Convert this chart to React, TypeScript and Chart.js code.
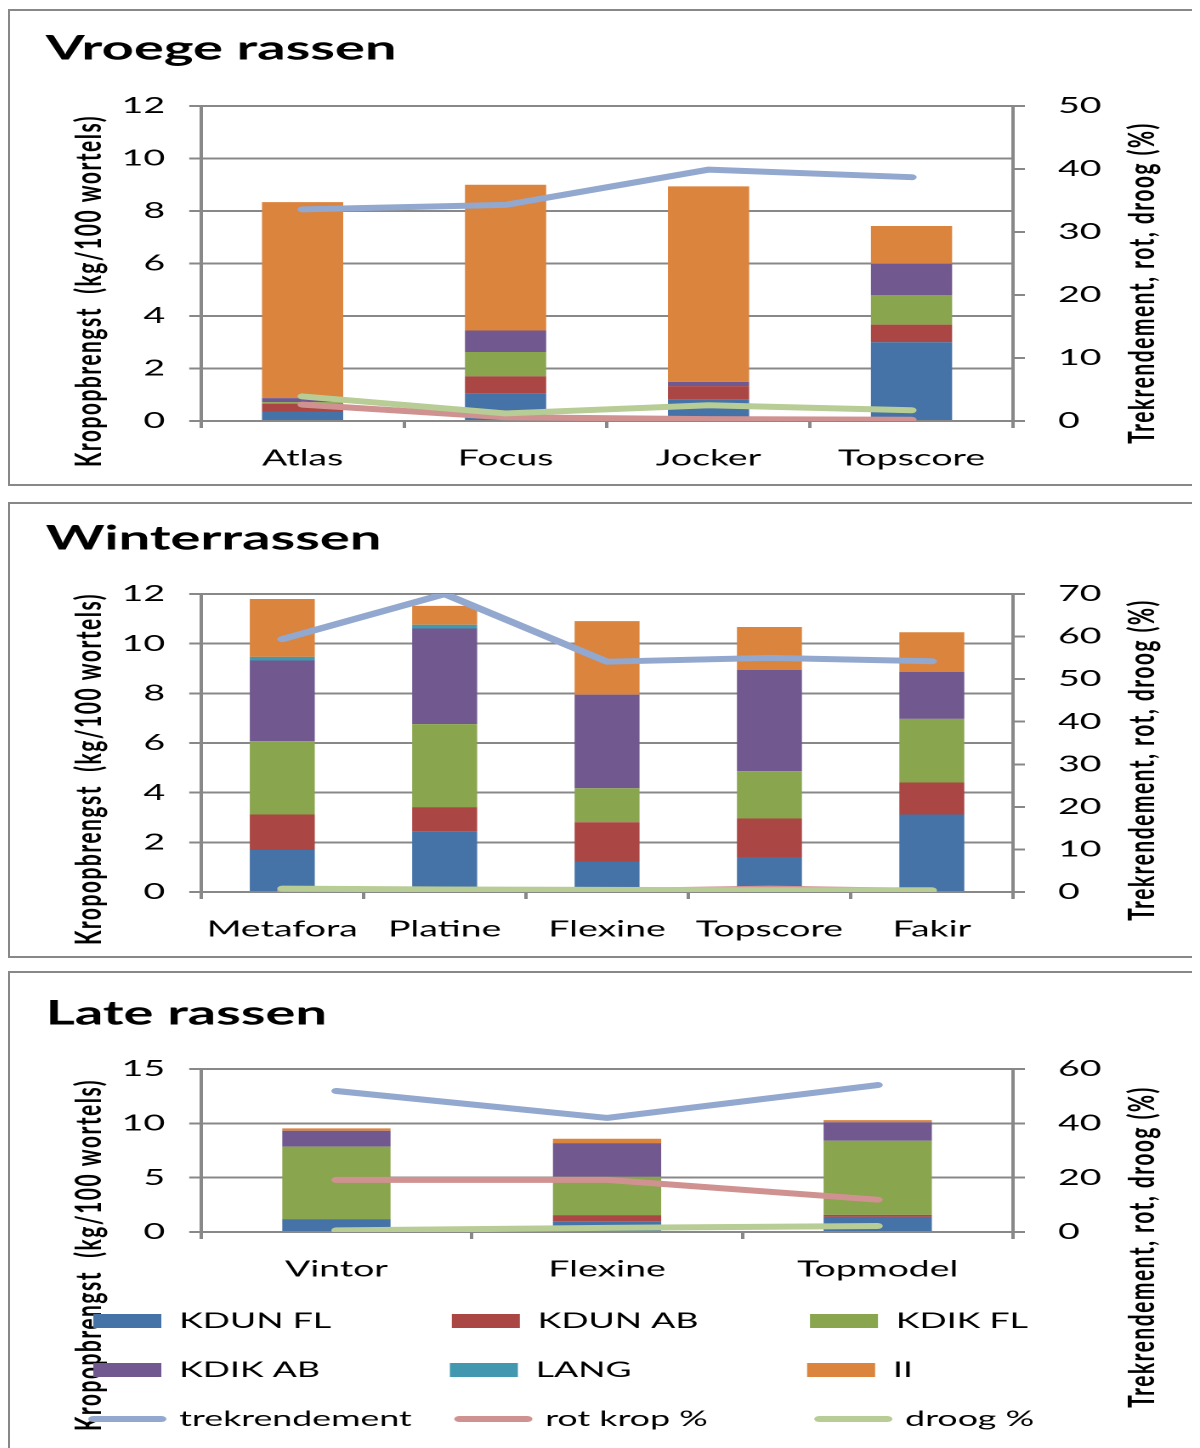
import React, { useEffect, useRef } from 'react';
import { Chart, registerables } from 'chart.js';

Chart.register(...registerables);

// ---------- data ----------
const BAR_NAMES = ['KDUN FL', 'KDUN AB', 'KDIK FL', 'KDIK AB', 'LANG', 'II'];
const LINE_NAMES = ['trekrendement', 'rot krop %', 'droog %'];
const BAR_COLORS = ['#4572A7', '#AA4643', '#89A54E', '#71588F', '#4198AF', '#DB843D'];
const LINE_COLORS = ['#92A8CF', '#D09291', '#B8CC95'];

const LEFT_TITLE = 'Kropopbrengst  (kg/100 wortels)';
const RIGHT_TITLE = 'Trekrendement, rot, droog (%)';

// Vroege rassen
const vroegeTitle = 'Vroege rassen';
const vroegeCats = ['Atlas', 'Focus', 'Jocker', 'Topscore'];
const vroegeKdunFl = [0.36, 1.04, 0.81, 3.0];
const vroegeKdunAb = [0.3, 0.66, 0.52, 0.67];
const vroegeKdikFl = [0.06, 0.93, 0.0, 1.13];
const vroegeKdikAb = [0.15, 0.82, 0.16, 1.19];
const vroegeLang = [0.02, 0, 0, 0];
const vroegeII = [7.45, 5.55, 7.45, 1.44];
const vroegeTrek = [33.6, 34.3, 39.9, 38.7];
const vroegeRot = [2.6, 0.6, 0.3, 0.2];
const vroegeDroog = [3.9, 1.2, 2.5, 1.7];

// Winterrassen
const winterTitle = 'Winterrassen';
const winterCats = ['Metafora', 'Platine', 'Flexine', 'Topscore', 'Fakir'];
const winterKdunFl = [1.69, 2.45, 1.23, 1.41, 3.12];
const winterKdunAb = [1.43, 0.97, 1.58, 1.55, 1.29];
const winterKdikFl = [2.95, 3.34, 1.37, 1.9, 2.56];
const winterKdikAb = [3.25, 3.85, 3.77, 4.08, 1.89];
const winterLang = [0.15, 0.15, 0, 0, 0];
const winterII = [2.33, 0.76, 2.96, 1.73, 1.6];
const winterTrek = [59.4, 70, 54.1, 55.0, 54.2];
const winterRot = [0.3, 0.2, 0.2, 0.8, 0.2];
const winterDroog = [0.8, 0.6, 0.5, 0.4, 0.4];

// Late rassen
const lateTitle = 'Late rassen';
const lateCats = ['Vintor', 'Flexine', 'Topmodel'];
const lateKdunFl = [1.18, 0.99, 1.39];
const lateKdunAb = [0.02, 0.56, 0.19];
const lateKdikFl = [6.66, 3.53, 6.82];
const lateKdikAb = [1.46, 3.1, 1.7];
const lateLang = [0, 0, 0];
const lateII = [0.22, 0.4, 0.19];
const lateTrek = [51.9, 42.0, 54.1];
const lateRot = [19.2, 19.2, 11.9];
const lateDroog = [0.6, 1.5, 2.2];

// ---------- styling ----------
const STRETCH = 1.7;
const CANVAS_W = 700;
const FONT = 'Lato, "Open Sans", "DejaVu Sans", sans-serif';
const GRID = '#888888';
const TICK_SIZE = 22;
const TITLE_SIZE = 33;
const AXIS_TITLE_SIZE = 21;
const AXIS_TITLE_SPACING = 1.5;
const LEFT_TITLE_PAD = 13;
const RIGHT_TITLE_PAD = 21.4;
const LEGEND_SIZE = 21;
const PAD_LEFT = 21;
const AREA_LEFT = 112.4;
const AREA_RIGHT = 590;

type PanelDef = {
  title: string;
  cats: string[];
  bars: number[][];
  lines: number[][];
  yMax: number;
  yStep: number;
  y1Max: number;
  y1Step: number;
  top: number;
  outerH: number;
  canvasH: number;
  titleTop: number;
  titleBottom: number;
  xAxisH: number;
  padBottom: number;
  legend: boolean;
  leftTitleY: number;
  rightTitleY: number;
};

const PANELS: PanelDef[] = [
  {
    title: vroegeTitle,
    cats: vroegeCats,
    bars: [vroegeKdunFl, vroegeKdunAb, vroegeKdikFl, vroegeKdikAb, vroegeLang, vroegeII],
    lines: [vroegeTrek, vroegeRot, vroegeDroog],
    yMax: 12, yStep: 2, y1Max: 50, y1Step: 10,
    top: 1, outerH: 477, canvasH: 473,
    titleTop: 18, titleBottom: 37.4, xAxisH: 63, padBottom: 0,
    legend: false, leftTitleY: 280, rightTitleY: 272,
  },
  {
    title: winterTitle,
    cats: winterCats,
    bars: [winterKdunFl, winterKdunAb, winterKdikFl, winterKdikAb, winterLang, winterII],
    lines: [winterTrek, winterRot, winterDroog],
    yMax: 12, yStep: 2, y1Max: 70, y1Step: 10,
    top: 494, outerH: 456, canvasH: 452,
    titleTop: 15, titleBottom: 35.4, xAxisH: 64, padBottom: 0,
    legend: false, leftTitleY: 265, rightTitleY: 256,
  },
  {
    title: lateTitle,
    cats: lateCats,
    bars: [lateKdunFl, lateKdunAb, lateKdikFl, lateKdikAb, lateLang, lateII],
    lines: [lateTrek, lateRot, lateDroog],
    yMax: 15, yStep: 5, y1Max: 60, y1Step: 20,
    top: 963, outerH: 500, canvasH: 475,
    titleTop: 21, titleBottom: 35.4, xAxisH: 50.5, padBottom: 8.5,
    legend: true, leftTitleY: 282, rightTitleY: 274,
  },
];

function verticalTitles(leftY: number, rightY: number) {
  return {
    id: 'verticalTitles',
    afterLayout(chart: any) {
      for (const id of ['y', 'y1']) {
        const sc = chart.scales[id];
        if (!sc || sc._vtPatched) continue;
        sc._vtPatched = true;
        const isLeft = id === 'y';
        sc.drawTitle = function () {
          const t = this.options.title;
          if (!t || !t.display) return;
          const ctx = this.ctx;
          const lh = AXIS_TITLE_SIZE * 1.2;
          const off = lh / 2 + (isLeft ? LEFT_TITLE_PAD : RIGHT_TITLE_PAD);
          const cx = isLeft ? this.left + off : this.right - off;
          const cy = isLeft ? leftY : rightY;
          ctx.save();
          ctx.translate(cx, cy);
          ctx.rotate(-Math.PI / 2);
          ctx.font = `bold ${AXIS_TITLE_SIZE}px ${FONT}`;
          (ctx as any).letterSpacing = `${AXIS_TITLE_SPACING}px`;
          ctx.fillStyle = '#000';
          ctx.textAlign = 'center';
          ctx.textBaseline = 'middle';
          ctx.fillText(t.text, 0, 0);
          ctx.restore();
        };
      }
    },
  };
}

function buildConfig(p: PanelDef): any {
  const datasets: any[] = [
    ...BAR_NAMES.map((name, i) => ({
      type: 'bar',
      label: name,
      data: p.bars[i],
      backgroundColor: BAR_COLORS[i],
      borderWidth: 0,
      yAxisID: 'y',
      stack: 'crop',
      order: 1,
      categoryPercentage: 1,
      barPercentage: 0.4,
    })),
    ...LINE_NAMES.map((name, i) => ({
      type: 'line',
      label: name,
      data: p.lines[i],
      borderColor: LINE_COLORS[i],
      backgroundColor: LINE_COLORS[i],
      borderWidth: 6,
      borderCapStyle: 'round',
      borderJoinStyle: 'round',
      pointRadius: 0,
      tension: 0,
      yAxisID: 'y1',
      order: -1 - i,
    })),
  ];

  return {
    type: 'bar',
    data: { labels: p.cats, datasets },
    plugins: [verticalTitles(p.leftTitleY, p.rightTitleY)],
    options: {
      responsive: false,
      animation: false,
      devicePixelRatio: 2,
      events: [],
      layout: { padding: { left: PAD_LEFT, right: 0, top: 0, bottom: p.padBottom } },
      plugins: {
        tooltip: { enabled: false },
        title: {
          display: true,
          text: p.title,
          align: 'start',
          color: '#000',
          font: { family: FONT, size: TITLE_SIZE, weight: 'bold', lineHeight: 1.2 },
          padding: { top: p.titleTop, bottom: p.titleBottom },
        },
        legend: {
          display: p.legend,
          position: 'bottom',
          align: 'start',
          labels: {
            color: '#000',
            font: { family: FONT, size: LEGEND_SIZE },
            usePointStyle: true,
            pointStyleWidth: 40,
            boxWidth: 40,
            boxHeight: 14,
            padding: 28,
            sort: (a: any, b: any) => a.datasetIndex - b.datasetIndex,
            generateLabels: (chart: any) => {
              const base = (Chart.defaults as any).plugins.legend.labels.generateLabels(chart);
              const ctx = chart.ctx;
              ctx.save();
              ctx.font = `${LEGEND_SIZE}px ${FONT}`;
              const target = Math.max(...base.map((it: any) => ctx.measureText(it.text).width)) - 4;
              base.forEach((it: any) => {
                const isLine = chart.data.datasets[it.datasetIndex].type === 'line';
                it.pointStyle = isLine ? 'line' : 'rect';
                it.lineWidth = isLine ? 6 : 0;
                it.lineCap = 'round';
                let t = it.text;
                while (ctx.measureText(t + ' ').width <= target + 0.5) t += ' ';
                it.text = t;
              });
              ctx.restore();
              return base;
            },
          },
        },
      },
      scales: {
        x: {
          stacked: true,
          offset: true,
          afterFit: (s: any) => { s.height = p.xAxisH; },
          grid: { display: true, drawOnChartArea: false, drawTicks: true, tickLength: 7, color: GRID, lineWidth: 2, offset: true },
          border: { display: true, color: GRID, width: 2 },
          ticks: { color: '#000', font: { family: FONT, size: TICK_SIZE }, padding: 17, maxRotation: 0, minRotation: 0, autoSkip: false },
        },
        y: {
          position: 'left',
          stacked: true,
          min: 0,
          max: p.yMax,
          afterFit: (s: any) => { s.width = AREA_LEFT - PAD_LEFT; },
          ticks: { stepSize: p.yStep, color: '#000', font: { family: FONT, size: TICK_SIZE }, padding: 14.2 },
          grid: { color: GRID, lineWidth: 2, drawTicks: true, tickLength: 7 },
          border: { display: true, color: GRID, width: 2 },
          title: { display: true, text: LEFT_TITLE, color: '#000', font: { family: FONT, size: AXIS_TITLE_SIZE, weight: 'bold' } },
        },
        y1: {
          position: 'right',
          stacked: false,
          min: 0,
          max: p.y1Max,
          afterFit: (s: any) => { s.width = CANVAS_W - AREA_RIGHT; },
          ticks: { stepSize: p.y1Step, color: '#000', font: { family: FONT, size: TICK_SIZE }, padding: 19.5 },
          grid: { drawOnChartArea: false, color: GRID, lineWidth: 2, drawTicks: true, tickLength: 7 },
          border: { display: true, color: GRID, width: 2 },
          title: { display: true, text: RIGHT_TITLE, color: '#000', font: { family: FONT, size: AXIS_TITLE_SIZE, weight: 'bold' } },
        },
      },
    },
  };
}

function PanelChart({ p }: { p: PanelDef }) {
  const ref = useRef<HTMLCanvasElement>(null);
  useEffect(() => {
    const canvas = ref.current;
    if (!canvas) return;
    const chart = new Chart(canvas, buildConfig(p));
    return () => chart.destroy();
  }, [p]);
  return (
    <div
      style={{
        position: 'absolute',
        left: 0,
        top: p.top,
        width: 1230,
        height: p.outerH,
        borderTop: `2px solid ${GRID}`,
        borderBottom: `2px solid ${GRID}`,
        borderLeft: `2px solid ${GRID}`,
        borderRight: 'none',
        boxSizing: 'border-box',
        background: '#fff',
        overflow: 'hidden',
      }}
    >
      <canvas
        ref={ref}
        width={CANVAS_W}
        height={p.canvasH}
        style={{ width: CANVAS_W * STRETCH, height: p.canvasH, display: 'block' }}
      />
    </div>
  );
}

export default function App() {
  return (
    <div style={{ position: 'relative', width: 1220, height: 1440, overflow: 'hidden' }}>
      <style>{'html{overflow:hidden}'}</style>
      {PANELS.map((p, i) => (
        <PanelChart key={i} p={p} />
      ))}
    </div>
  );
}
